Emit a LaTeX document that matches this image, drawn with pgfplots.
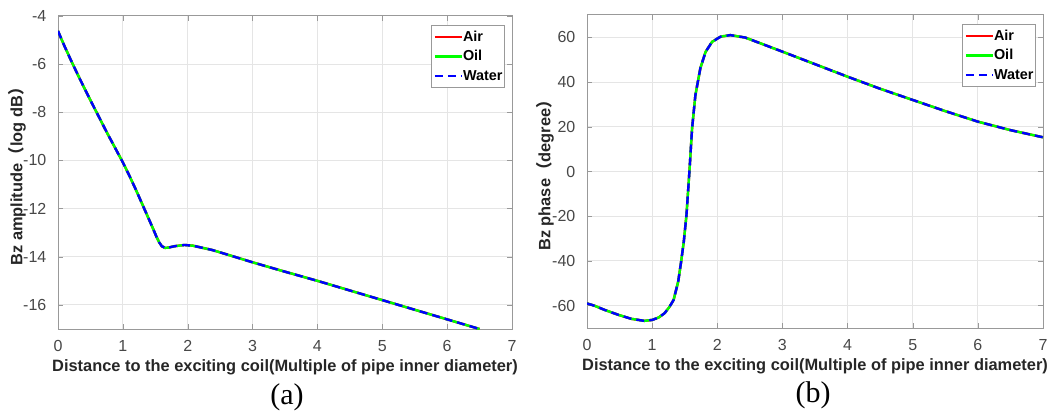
\documentclass[border=0pt]{standalone}
\usepackage{pgfplots}
\pgfplotsset{compat=1.18}
\usepackage{fontspec}
\setmainfont{Liberation Sans}
\newfontfamily\seriffont{Liberation Serif}
\newfontfamily\cjk{Noto Sans CJK SC}
\definecolor{mgreen}{rgb}{0,1,0}
\definecolor{mblue}{rgb}{0,0,1}
\definecolor{mred}{rgb}{1,0,0}

\pgfplotstableread{
x y
0 -4.62
0.05 -4.94
0.1 -5.25
0.2 -5.84
0.3 -6.41
0.4 -6.96
0.5 -7.5
0.75 -8.82
1.0 -10.08
1.1 -10.63
1.2 -11.21
1.3 -11.82
1.4 -12.43
1.47 -12.86
1.52 -13.18
1.56 -13.40
1.6 -13.56
1.65 -13.63
1.7 -13.62
1.8 -13.56
1.95 -13.51
2.08 -13.54
2.23 -13.63
2.38 -13.72
2.6 -13.9
3 -14.23
3.5 -14.62
4 -15.0
4.5 -15.4
5 -15.8
5.5 -16.2
6 -16.6
6.5 -17.0
}\amp

\pgfplotstableread{
x y
0 -59
0.12 -60.1
0.27 -61.9
0.48 -64.1
0.68 -65.9
0.88 -66.8
1.0 -66.4
1.1 -65.3
1.19 -63.4
1.26 -60.8
1.33 -57.4
1.40 -49.2
1.445 -40.3
1.486 -31.3
1.527 -19.4
1.572 0
1.613 19.3
1.664 34.2
1.74 46.2
1.82 53.5
1.92 58
2.05 60.3
2.2 61
2.43 59.9
3 53.6
3.5 48
4 42.4
4.5 37
5 32
5.5 27
6 22.3
6.5 18.5
7 15.3
}\phase

\pgfplotsset{
  myaxis/.style={
    scale only axis,
    axis line style={black!40, line width=0.5pt},
    xmin=0, xmax=7, xtick={0,...,7},
    grid=major, grid style={black!10, line width=0.5pt},
    tick align=inside, major tick length=2.5pt, tick style={black!40},
    ticklabel style={font=\fontsize{8}{9.5}\selectfont, text=black!72},
    xticklabel style={yshift=-2.3pt},
    yticklabel style={xshift=-2.3pt},
    /pgf/number format/assume math mode=true,
    label style={font=\bfseries\fontsize{8.2}{10}\selectfont, text=black!85},
    xlabel={Distance to the exciting coil(Multiple of pipe inner diameter)},
    xlabel style={at={(axis description cs:0.5,-0.1214)}, anchor=center},
    legend style={at={(1,1)}, anchor=north east, xshift=-3.5pt, yshift=-4.5pt,
      draw=black!40, line width=0.5pt, fill=white,
      font=\bfseries\fontsize{7.2}{8}\selectfont,
      inner xsep=1pt, inner ysep=1pt,
      nodes={inner xsep=0pt, inner ysep=1.3pt, text height=5.6pt, text depth=1.5pt},
      row sep=0pt},
    legend cell align=left,
    legend image code/.code={\draw[##1] (0pt,0pt) -- (13.5pt,0pt);},
  },
  airl/.style={mred, line width=1.2pt},
  oill/.style={mgreen, line width=1.2pt},
  watl/.style={mblue, line width=1.2pt, dash pattern=on 4pt off 2.5pt},
}

\begin{document}
\begin{tikzpicture}
\useasboundingbox (0,0) rectangle (529pt,206pt);
\begin{axis}[myaxis,
  at={(29pt,41.5pt)}, anchor=south west,
  width=227pt, height=156.5pt,
  ymin=-17, ymax=-4, ytick={-16,-14,...,-4},
  ylabel={Bz amplitude{\cjk （}log dB{\cjk ）}},
  ylabel style={at={(axis description cs:-0.0903,0.5)}, anchor=center},
]
\addplot[airl] table {\amp};
\addplot[oill] table {\amp};
\addplot[watl] table {\amp};
\legend{Air,Oil,Water}
\end{axis}

\begin{axis}[myaxis,
  at={(293.5pt,42pt)}, anchor=south west,
  width=228pt, height=156.5pt,
  ymin=-70, ymax=70, ytick={-60,-40,...,60},
  ylabel={Bz phase{\cjk （}degree{\cjk ）}},
  ylabel style={at={(axis description cs:-0.092,0.5)}, anchor=center},
]
\addplot[airl] table {\phase};
\addplot[oill] table {\phase};
\addplot[watl] table {\phase};
\legend{Air,Oil,Water}
\end{axis}

\node[font=\seriffont\fontsize{15}{18}\selectfont] at (143.5pt,7.5pt) {(a)};
\node[font=\seriffont\fontsize{15}{18}\selectfont] at (406.5pt,8.5pt) {(b)};
\end{tikzpicture}
\end{document}
